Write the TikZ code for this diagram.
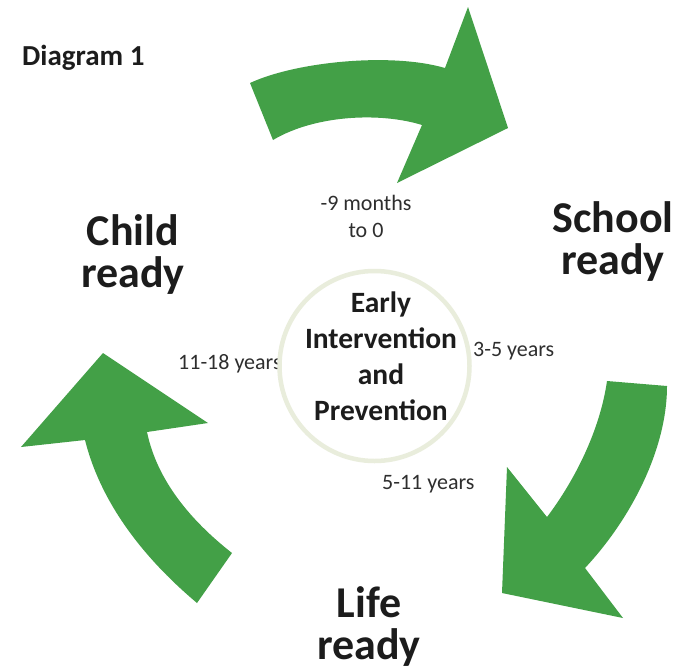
\documentclass[tikz,border=0pt]{standalone}
\usepackage{fontspec}
\setmainfont{Carlito}
\definecolor{arrowgreen}{HTML}{43A047}
\definecolor{ringcol}{HTML}{E9EDDC}
\definecolor{inkdark}{HTML}{1C1C1C}
\definecolor{inksoft}{HTML}{2E2E2E}
\begin{document}
\begin{tikzpicture}[x=1pt,y=-1pt,
  bigword/.style={font=\bfseries\fontsize{44}{42}\selectfont, text=inkdark, align=center, inner sep=0pt, anchor=base},
  agelabel/.style={font=\fontsize{22}{27}\selectfont, text=inksoft, align=center, inner sep=0pt, anchor=base},
  bendarrow/.style={fill=arrowgreen, draw=none}]
\useasboundingbox (0,0) rectangle (682,670);
\fill[white] (0,0) rectangle (682,670);

% title
\node[font=\bfseries\fontsize{29}{33}\selectfont, text=inkdark, inner sep=0pt, anchor=base west] (title) at (22,65) {Diagram 1};

% curved arrows around the cycle
\path[bendarrow] (250,83) .. controls (295,62) and (390,52) .. (445,68)
  -- (468,7) -- (508,128) -- (397,183) -- (422,125)
  .. controls (380,112) and (315,115) .. (273,140) -- cycle;
\path[bendarrow] (607,381) -- (667,386)
  .. controls (667,450) and (630,520) .. (585,568)
  -- (623,618) -- (502,593) -- (507,467) -- (547,517)
  .. controls (575,480) and (600,430) .. (607,381) -- cycle;
\path[bendarrow] (103,353) -- (208,423) -- (147,432)
  .. controls (157,480) and (190,520) .. (232,553)
  -- (197,603)
  .. controls (140,555) and (100,500) .. (85,440)
  -- (21,447) -- cycle;

% stage names (base anchor sits on the last line)
\node[bigword] (child) at (133,287) {Child\\ready};
\node[bigword] (school) at (613,274) {School\\ready};
\node[bigword] (life) at (369,659) {Life\\ready};

% age ranges
\node[agelabel] (months) at (366,237) {-9 months\\to 0};
\node[agelabel, anchor=base west] (y35) at (473,356) {3-5 years};
\node[agelabel, anchor=base west] (y511) at (382,489) {5-11 years};
\node[agelabel, anchor=base west] (y1118) at (178,369) {11-18 years};

% central hub
\node[circle, draw=ringcol, fill=white, line width=4.5pt, minimum size=190pt, inner sep=0pt] (hub) at (374.5,366) {};
\node[font=\bfseries\fontsize{29.5}{35.7}\selectfont, text=inkdark, align=center, inner sep=0pt, anchor=base] (hubtext) at (381,420) {Early\\Intervention\\and\\Prevention};
\end{tikzpicture}
\end{document}
